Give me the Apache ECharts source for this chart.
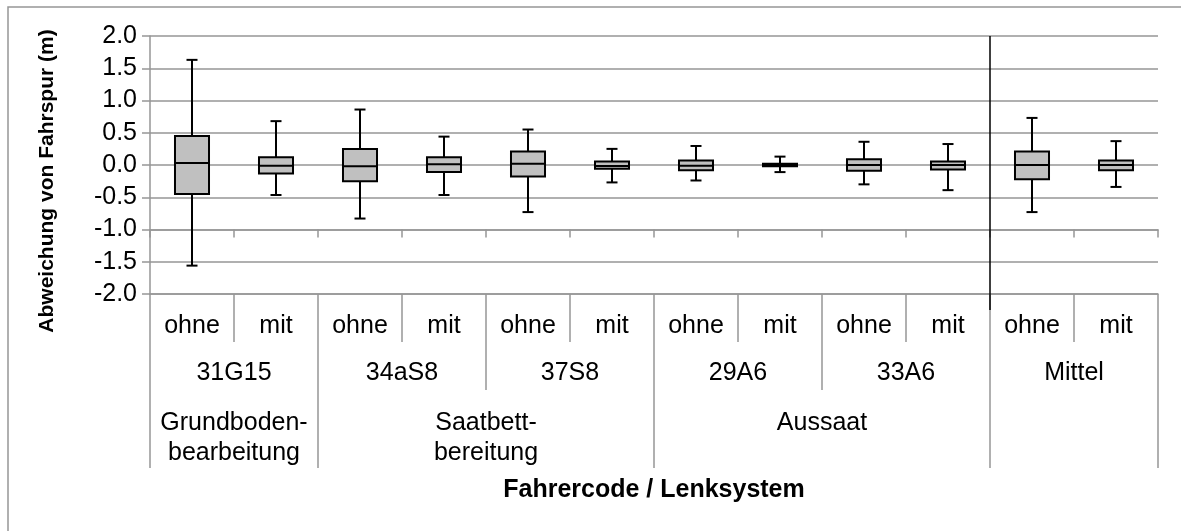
<!DOCTYPE html>
<html>
<head>
<meta charset="utf-8">
<script src="https://cdn.jsdelivr.net/npm/echarts@6/dist/echarts.min.js"></script>
<style>
  html, body { margin: 0; padding: 0; background: #fff; }
  #chart { width: 1181px; height: 531px; }
</style>
</head>
<body>
<div id="chart"></div>
<script>
// Lenksystem per driver: without (ohne) / with (mit)
const categories = ['ohne', 'mit', 'ohne', 'mit', 'ohne', 'mit', 'ohne', 'mit', 'ohne', 'mit', 'ohne', 'mit'];
const drivers = ['31G15', '34aS8', '37S8', '29A6', '33A6', 'Mittel'];
const stages = ['Grundboden-\nbearbeitung', 'Saatbett-\nbereitung', 'Aussaat', ''];
const stageSpans = [2, 4, 4, 2];

// Box plot statistics, deviation from track (m)
const whiskerLow  = [-1.56, -0.465, -0.83, -0.465, -0.73, -0.27, -0.24, -0.11, -0.30, -0.39, -0.73, -0.34];
const quartile1   = [-0.45, -0.13, -0.25, -0.11, -0.18, -0.06, -0.08, -0.02, -0.09, -0.07, -0.22, -0.08];
const medians     = [0.03, -0.01, -0.02, 0.01, 0.02, -0.015, -0.01, 0.0, 0.0, 0.0, 0.0, 0.0];
const quartile3   = [0.45, 0.12, 0.25, 0.12, 0.21, 0.055, 0.07, 0.02, 0.09, 0.055, 0.21, 0.07];
const whiskerHigh = [1.63, 0.68, 0.86, 0.44, 0.55, 0.25, 0.295, 0.13, 0.36, 0.325, 0.73, 0.37];

// y axis range
const yMin = -2.0, yMax = 2.0, yStep = 0.5;
// x axis crosses the value axis here
const xCross = -1.0;

const FONT = "'Liberation Sans', Arial, sans-serif";
const GRAY = '#969696';
const PLOT_HEIGHT = 258;

// stage boundaries and centres in category units
const stageBounds = [0];
stageSpans.forEach(s => stageBounds.push(stageBounds[stageBounds.length - 1] + s));
const stageCenters = stageSpans.map((s, i) => stageBounds[i] + s / 2);

const boxData = categories.map((c, i) =>
  [i, whiskerLow[i], quartile1[i], medians[i], quartile3[i], whiskerHigh[i]]);

// index of the last driver column before the mean columns
const lastDriverIndex = (drivers.length - 1) * 2 - 1;

const chart = echarts.init(document.getElementById('chart'), null, { renderer: 'canvas' });

function renderBox(params, api) {
  const i = api.value(0);
  const low = api.coord([i, api.value(1)]);
  const q1 = api.coord([i, api.value(2)]);
  const med = api.coord([i, api.value(3)]);
  const q3 = api.coord([i, api.value(4)]);
  const high = api.coord([i, api.value(5)]);
  const cx = low[0];
  const bw = api.size([1, 0])[0] * 0.405;
  const cap = 11;
  const line = { stroke: '#000', lineWidth: 2 };
  return {
    type: 'group',
    children: [
      { type: 'line', shape: { x1: cx, y1: high[1], x2: cx, y2: low[1] }, style: line },
      { type: 'line', shape: { x1: cx - cap / 2, y1: high[1], x2: cx + cap / 2, y2: high[1] }, style: line },
      { type: 'line', shape: { x1: cx - cap / 2, y1: low[1], x2: cx + cap / 2, y2: low[1] }, style: line },
      { type: 'rect', shape: { x: cx - bw / 2, y: q3[1], width: bw, height: q1[1] - q3[1] },
        style: { fill: '#c0c0c0', stroke: '#000', lineWidth: 2 } },
      { type: 'line', shape: { x1: cx - bw / 2, y1: med[1], x2: cx + bw / 2, y2: med[1] }, style: line }
    ]
  };
}

// vertical rule separating the mean ("Mittel") from the drivers
function renderDivider(params, api) {
  const i = api.value(0);
  const x = api.coord([i, 0])[0] + api.size([1, 0])[0] / 2;
  const top = api.coord([i, yMax])[1];
  const bottom = api.coord([i, yMin])[1] + 16;
  return {
    type: 'line',
    shape: { x1: x, y1: top, x2: x, y2: bottom },
    style: { stroke: '#000', lineWidth: 1.5 }
  };
}

const tickStyle = { color: GRAY, width: 1.5 };

const option = {
  animation: false,
  backgroundColor: '#fff',
  textStyle: { fontFamily: FONT },
  grid: { left: 150, right: 23, top: 36, bottom: 237, containLabel: false },
  xAxis: [
    {
      type: 'category', data: categories, position: 'bottom',
      axisLine: { show: true, onZero: false, lineStyle: tickStyle },
      axisTick: { show: true, interval: 0, length: 48, lineStyle: tickStyle },
      axisLabel: { interval: 0, margin: 20, fontSize: 25, color: '#000', fontFamily: FONT },
      splitLine: { show: false }
    },
    {
      type: 'category', data: drivers, position: 'bottom', offset: 48,
      axisLine: { show: false, onZero: false },
      axisTick: { show: true, interval: 0, length: 48, lineStyle: tickStyle },
      axisLabel: { interval: 0, margin: 19, fontSize: 25, color: '#000', fontFamily: FONT },
      splitLine: { show: false }
    },
    {
      type: 'value', min: 0, max: stageBounds[stageBounds.length - 1], position: 'bottom', offset: 96,
      axisLine: { show: false, onZero: false },
      axisTick: { show: true, customValues: stageBounds, length: 78, lineStyle: tickStyle },
      axisLabel: {
        customValues: stageCenters, margin: 18, fontSize: 25, lineHeight: 30, color: '#000',
        fontFamily: FONT, align: 'center',
        formatter: v => stages[stageCenters.indexOf(v)] || ''
      },
      splitLine: { show: false }
    },
    {
      type: 'category', data: categories, position: 'bottom',
      offset: -((xCross - yMin) / (yMax - yMin)) * PLOT_HEIGHT,
      axisLine: { show: true, onZero: false, lineStyle: tickStyle },
      axisTick: { show: true, interval: 0, length: 8, lineStyle: tickStyle },
      axisLabel: { show: false },
      splitLine: { show: false }
    }
  ],
  yAxis: {
    type: 'value', min: yMin, max: yMax, interval: yStep,
    axisLine: { show: true, onZero: false, lineStyle: tickStyle },
    axisTick: { show: true, length: 8, lineStyle: tickStyle },
    axisLabel: { margin: 13, fontSize: 25, color: '#000', fontFamily: FONT, formatter: v => v.toFixed(1) },
    splitLine: { show: true, lineStyle: tickStyle }
  },
  graphic: [
    {
      type: 'rect', silent: true, z: -1,
      shape: { x: 8, y: 7, width: 1300, height: 700 },
      style: { fill: 'none', stroke: GRAY, lineWidth: 1.5 }
    },
    {
      type: 'text', x: 47, y: 181, rotation: Math.PI / 2,
      style: {
        text: 'Abweichung von Fahrspur (m)', align: 'center', verticalAlign: 'middle',
        font: "bold 21px 'Liberation Sans', Arial, sans-serif", fill: '#000'
      }
    },
    {
      type: 'text', x: 654, y: 490,
      style: {
        text: 'Fahrercode / Lenksystem', align: 'center', verticalAlign: 'middle',
        font: "bold 25px 'Liberation Sans', Arial, sans-serif", fill: '#000'
      }
    }
  ],
  series: [
    {
      type: 'custom', xAxisIndex: 0, yAxisIndex: 0, clip: false, z: 3,
      renderItem: renderBox,
      encode: { x: 0, y: [1, 2, 3, 4, 5] },
      data: boxData
    },
    {
      type: 'custom', xAxisIndex: 0, yAxisIndex: 0, clip: false, z: 4,
      renderItem: renderDivider,
      encode: { x: 0 },
      data: [[lastDriverIndex]]
    }
  ]
};

chart.setOption(option);
</script>
</body>
</html>
